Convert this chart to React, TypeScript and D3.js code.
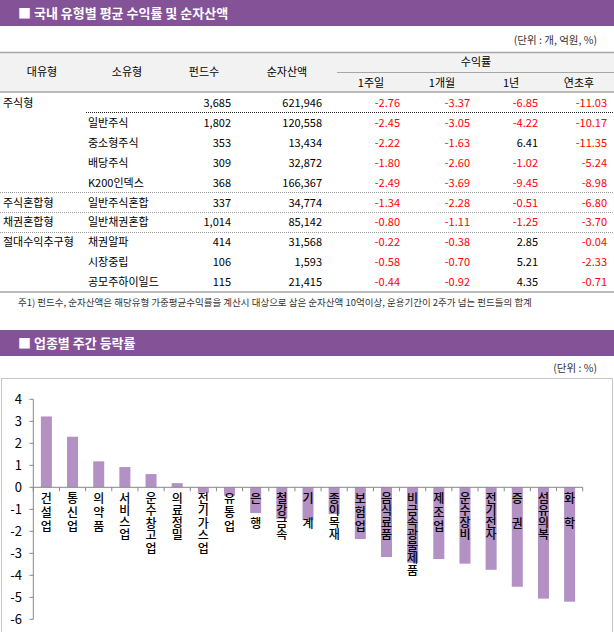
import React from "react";
import * as d3 from "d3";

// ---- Table data ----
const majorTypes = ["주식형", "", "", "", "", "주식혼합형", "채권혼합형", "절대수익추구형", "", ""];
const subTypes = ["", "일반주식", "중소형주식", "배당주식", "K200인덱스", "일반주식혼합", "일반채권혼합", "채권알파", "시장중립", "공모주하이일드"];
const fundCounts = [3685, 1802, 353, 309, 368, 337, 1014, 414, 106, 115];
const netAssets = [621946, 120558, 13434, 32872, 166367, 34774, 85142, 31568, 1593, 21415];
const ret1w = [-2.76, -2.45, -2.22, -1.8, -2.49, -1.34, -0.8, -0.22, -0.58, -0.44];
const ret1m = [-3.37, -3.05, -1.63, -2.6, -3.69, -2.28, -1.11, -0.38, -0.7, -0.92];
const ret1y = [-6.85, -4.22, 6.41, -1.02, -9.45, -0.51, -1.25, 2.85, 5.21, 4.35];
const retYtd = [-11.03, -10.17, -11.35, -5.24, -8.98, -6.8, -3.7, -0.04, -2.33, -0.71];

// ---- Chart data ----
const sectors = [
  "건설업", "통신업", "의약품", "서비스업", "운수창고업", "의료정밀", "전기가스업", "유통업", "은행", "철강금속",
  "기계", "종이목재", "보험업", "음식료품", "비금속광물제품", "제조업", "운수장비", "전기전자", "증권", "섬유의복", "화학",
];
const weeklyChange = [
  3.22, 2.3, 1.18, 0.92, 0.6, 0.19, -0.25, -0.38, -1.17, -1.43,
  -1.5, -1.22, -2.35, -3.17, -3.43, -3.26, -3.47, -3.75, -4.52, -5.06, -5.2,
];
const yTicks = [4, 3, 2, 1, 0, -1, -2, -3, -4, -5, -6];

const PURPLE = "#845297";
const BAR = "#b491c4";
const FONT = "'Noto Sans CJK KR', 'Noto Sans', sans-serif";

const fmtInt = d3.format(",");
const fmtRet = (v: number) => v.toFixed(2);

export default function App() {
  // table geometry
  const rowY = (i: number) => 103 + i * 19.9;
  const numCols = [
    { data: ret1w, x: 400 },
    { data: ret1m, x: 470 },
    { data: ret1y, x: 538 },
    { data: retYtd, x: 607 },
  ];

  // chart scales
  const x = d3.scaleBand<string>().domain(sectors).range([33.3, 582.7]).padding(0);
  const y = d3.scaleLinear().domain([-6, 4]).range([619.3, 399.3]);
  const barW = 11;

  const labelFs = 12;
  const labelStep = (s: string) => (s.length === 2 ? 25 : s.length === 3 ? 14 : s.length === 5 ? 12.5 : 12);

  return (
    <div style={{ position: "absolute", left: 0, top: 0 }}>
      <svg width={614} height={632} style={{ display: "block", fontFamily: FONT }}>
        <rect x={0} y={0} width={614} height={632} fill="#fff" />
        {/* Section 1 title */}
        <rect x={0} y={0} width={614} height={26} fill={PURPLE} />
        <text x={18} y={17.5} fill="#fff" fontSize={13} fontWeight={700}>
          ■ 국내 유형별 평균 수익률 및 순자산액
        </text>
        <text x={597} y={44} textAnchor="end" fontSize={10.5} fill="#333">
          (단위 : 개, 억원, %)
        </text>

        {/* Table header */}
        <rect x={0} y={52} width={614} height={40} fill="#f2f2f2" />
        <line x1={0} x2={614} y1={52.5} y2={52.5} stroke="#a6a6a6" strokeWidth={1.5} />
        <line x1={337} x2={614} y1={72.5} y2={72.5} stroke="#a6a6a6" />
        <line x1={0} x2={614} y1={92} y2={92} stroke="#a6a6a6" strokeWidth={1.5} />
        {[
          ["대유형", 42],
          ["소유형", 127],
          ["펀드수", 204],
          ["순자산액", 287],
        ].map(([t, cx]) => (
          <text key={t as string} x={cx as number} y={76} textAnchor="middle" fontSize={11} fill="#000">
            {t}
          </text>
        ))}
        <text x={476} y={66} textAnchor="middle" fontSize={11} fill="#000">수익률</text>
        {[
          ["1주일", 371],
          ["1개월", 442],
          ["1년", 511],
          ["연초후", 579],
        ].map(([t, cx]) => (
          <text key={t as string} x={cx as number} y={86.5} textAnchor="middle" fontSize={11} fill="#000">
            {t}
          </text>
        ))}

        {/* Table rows */}
        {subTypes.map((s, i) => {
          const cy = rowY(i) + 4;
          return (
            <g key={i} fontSize={11}>
              {majorTypes[i] && (
                <text x={3} y={cy} fill="#000">{majorTypes[i]}</text>
              )}
              {s && <text x={88} y={cy} fill="#000">{s}</text>}
              <text x={231} y={cy} textAnchor="end" fill="#000">{fmtInt(fundCounts[i])}</text>
              <text x={322} y={cy} textAnchor="end" fill="#000">{fmtInt(netAssets[i])}</text>
              {numCols.map((c, j) => (
                <text key={j} x={c.x} y={cy} textAnchor="end" fill={c.data[i] < 0 ? "#ff0000" : "#000"}>
                  {fmtRet(c.data[i])}
                </text>
              ))}
            </g>
          );
        })}
        <line x1={86} x2={614} y1={112.5} y2={112.5} stroke="#222" strokeDasharray="1,1" />
        {[192.5, 212.5, 232.5].map((ly) => (
          <line key={ly} x1={0} x2={614} y1={ly} y2={ly} stroke="#999" strokeDasharray="1,1" />
        ))}
        <line x1={0} x2={614} y1={292} y2={292} stroke="#a6a6a6" strokeWidth={1.5} />
        <text x={18} y={306} fontSize={9.5} fill="#333">
          주1) 펀드수, 순자산액은 해당유형 가중평균수익률을 계산시 대상으로 삼은 순자산액 10억이상, 운용기간이 2주가 넘는 펀드들의 합계
        </text>

        {/* Section 2 title */}
        <rect x={0} y={330} width={614} height={26} fill={PURPLE} />
        <text x={18} y={348} fill="#fff" fontSize={13} fontWeight={700}>
          ■ 업종별 주간 등락률
        </text>
        <text x={597} y={372} textAnchor="end" fontSize={10.5} fill="#333">
          (단위 : %)
        </text>

        {/* Chart box */}
        <rect x={1.5} y={378.5} width={611} height={260} fill="#fff" stroke="#c8c8c8" />

        {/* Bars */}
        {sectors.map((s, i) => {
          const v = weeklyChange[i];
          const cx = (x(s) as number) + x.bandwidth() / 2;
          return (
            <rect
              key={s}
              x={cx - barW / 2}
              y={Math.min(y(v), y(0))}
              width={barW}
              height={Math.abs(y(v) - y(0))}
              fill={BAR}
            />
          );
        })}

        {/* Y axis */}
        <line x1={33.3} x2={33.3} y1={y(4)} y2={y(-6)} stroke="#868686" />
        {yTicks.map((t) => (
          <g key={t}>
            <line x1={29.5} x2={33.3} y1={y(t)} y2={y(t)} stroke="#868686" />
            <text x={22} y={y(t) + 4.5} textAnchor="end" fontSize={13} fill="#000">
              {t}
            </text>
          </g>
        ))}

        {/* X axis */}
        <line x1={33.3} x2={582.7} y1={y(0)} y2={y(0)} stroke="#868686" />
        {[...sectors.map((s) => x(s) as number), 582.7].map((tx, i) => (
          <line key={i} x1={tx} x2={tx} y1={y(0)} y2={y(0) + 4} stroke="#868686" />
        ))}

        {/* Category labels (vertical stacked, upright) */}
        {sectors.map((s) => {
          const cx = (x(s) as number) + x.bandwidth() / 2;
          const step = labelStep(s);
          return (
            <text
              key={s}
              x={cx}
              y={492}
              fontSize={labelFs}
              fontWeight={500}
              fill="#000"
              style={{
                writingMode: "vertical-rl",
                textOrientation: "upright",
                letterSpacing: `${step - labelFs}px`,
              } as React.CSSProperties}
            >
              {s}
            </text>
          );
        })}
      </svg>
    </div>
  );
}
